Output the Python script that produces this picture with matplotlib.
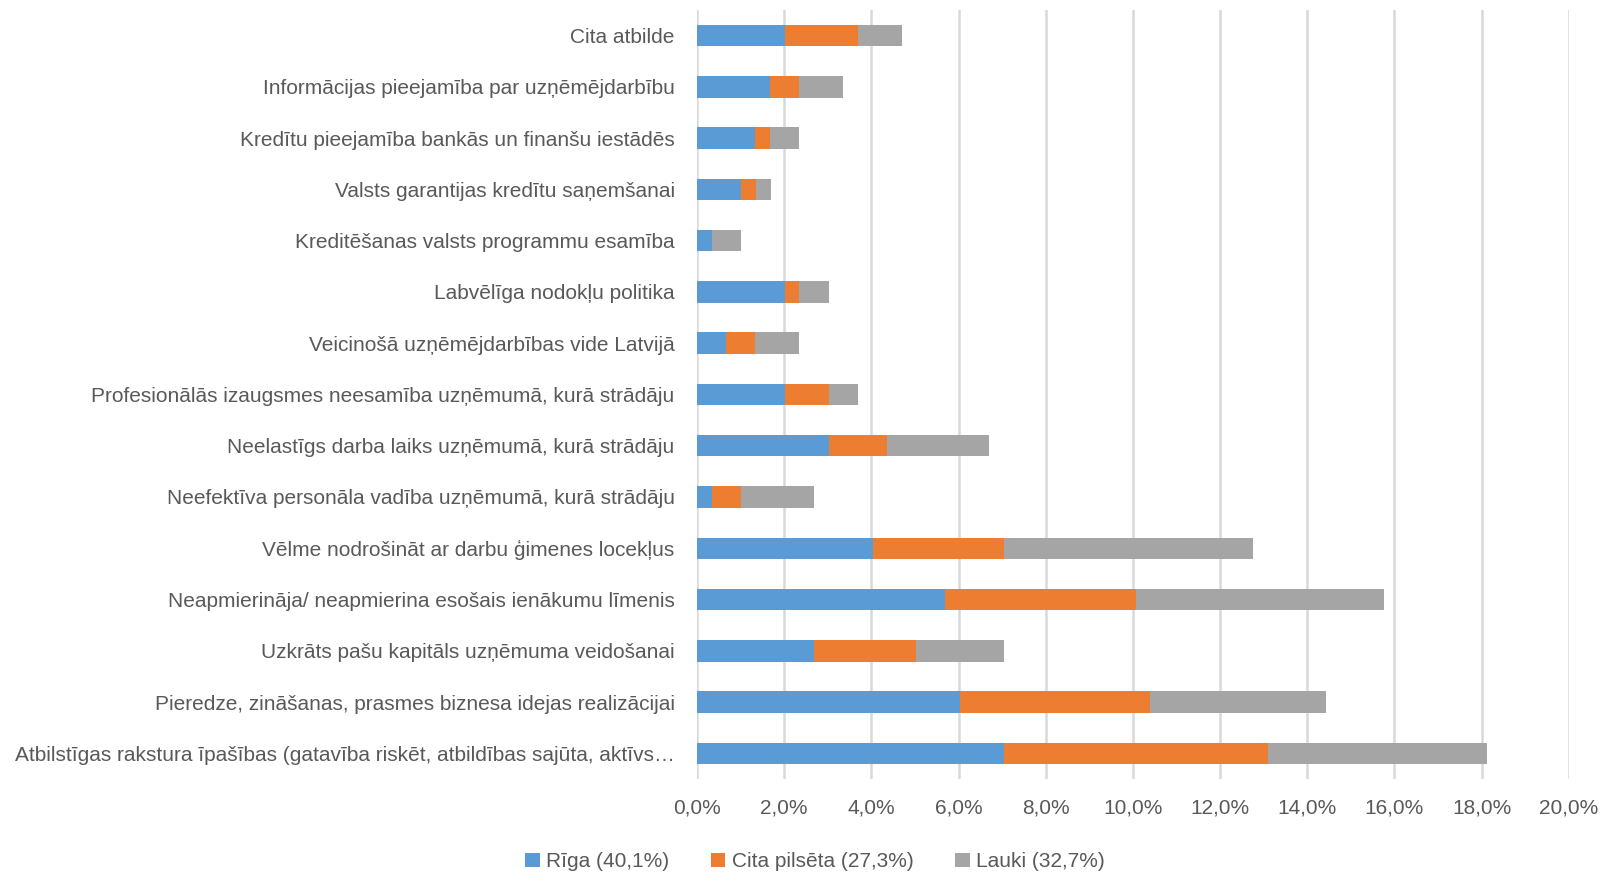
import matplotlib.pyplot as plt
from matplotlib.ticker import FuncFormatter

categories = [
    "Atbilstīgas rakstura īpašības (gatavība riskēt, atbildības sajūta, aktīvs…",
    "Pieredze, zināšanas, prasmes biznesa idejas realizācijai",
    "Uzkrāts pašu kapitāls uzņēmuma veidošanai",
    "Neapmierināja/ neapmierina esošais ienākumu līmenis",
    "Vēlme nodrošināt ar darbu ģimenes locekļus",
    "Neefektīva personāla vadība uzņēmumā, kurā strādāju",
    "Neelastīgs darba laiks uzņēmumā, kurā strādāju",
    "Profesionālās izaugsmes neesamība uzņēmumā, kurā strādāju",
    "Veicinošā uzņēmējdarbības vide Latvijā",
    "Labvēlīga nodokļu politika",
    "Kreditēšanas valsts programmu esamība",
    "Valsts garantijas kredītu saņemšanai",
    "Kredītu pieejamība bankās un finanšu iestādēs",
    "Informācijas pieejamība par uzņēmējdarbību",
    "Cita atbilde",
]

riga = [7.05, 6.04, 2.68, 5.70, 4.03, 0.34, 3.02, 2.01, 0.67, 2.01, 0.34, 1.01, 1.34, 1.68, 2.01]
cita = [6.04, 4.36, 2.35, 4.36, 3.02, 0.67, 1.34, 1.01, 0.67, 0.34, 0.00, 0.34, 0.34, 0.67, 1.68]
lauki = [5.03, 4.03, 2.01, 5.70, 5.70, 1.68, 2.35, 0.67, 1.01, 0.67, 0.67, 0.34, 0.67, 1.01, 1.01]

series_names = ["Rīga (40,1%)", "Cita pilsēta (27,3%)", "Lauki (32,7%)"]
colors = ["#5B9BD5", "#ED7D31", "#A5A5A5"]

plt.rcParams["font.family"] = ["Liberation Sans", "DejaVu Sans"]
text_color = "#595959"

fig = plt.figure(figsize=(16.04, 8.75), dpi=100)
ax = fig.add_axes([0.4345, 0.1097, 0.5436, 0.879])

y = list(range(len(categories)))
left = [0.0] * len(categories)
for vals, name, col in zip([riga, cita, lauki], series_names, colors):
    ax.barh(y, vals, left=left, height=0.42, color=col, label=name, zorder=3)
    left = [a + b for a, b in zip(left, vals)]

ax.set_xlim(0, 20)
ax.set_ylim(-0.5, len(categories) - 0.5)
ax.set_xticks(range(0, 21, 2))
ax.xaxis.set_major_formatter(FuncFormatter(lambda v, p: f"{v:.1f}%".replace(".", ",")))
ax.set_yticks(y)
ax.set_yticklabels(categories)

ax.grid(axis="x", color="#D9D9D9", linewidth=1.8, zorder=0)
for s in ax.spines.values():
    s.set_visible(False)
ax.tick_params(axis="both", length=0, labelsize=15, colors=text_color)
ax.tick_params(axis="y", pad=16)
ax.tick_params(axis="x", pad=14)

fig.legend(loc="center", bbox_to_anchor=(0.508, 0.015), ncol=3, frameon=False,
           fontsize=15, labelcolor=text_color, handlelength=0.7, handleheight=0.7,
           handletextpad=0.3, columnspacing=2.0)

plt.savefig("out.png")
